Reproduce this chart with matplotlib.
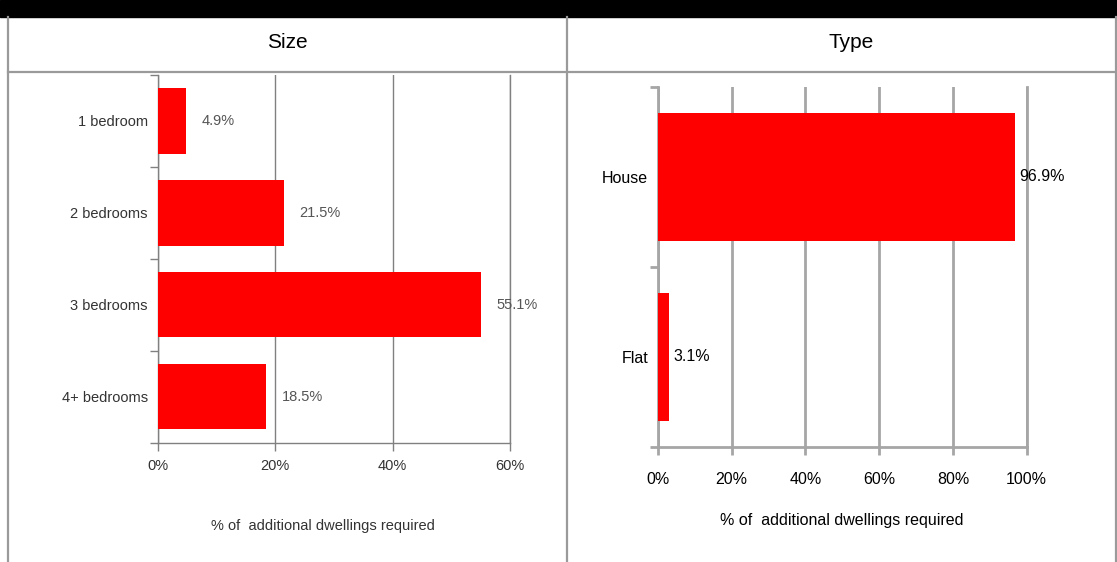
import matplotlib.pyplot as plt
from matplotlib.lines import Line2D
from matplotlib.patches import Rectangle
from matplotlib.ticker import PercentFormatter

size_cats = ["1 bedroom", "2 bedrooms", "3 bedrooms", "4+ bedrooms"]
size_vals = [4.9, 21.5, 55.1, 18.5]
size_ticks = [0, 20, 40, 60]

type_cats = ["House", "Flat"]
type_vals = [96.9, 3.1]
type_ticks = [0, 20, 40, 60, 80, 100]

XLABEL = "% of  additional dwellings required"
RED = "#ff0000"

plt.rcParams["font.family"] = ["Liberation Sans", "DejaVu Sans"]

W, H = 1117, 562
fig = plt.figure(figsize=(W / 100, H / 100), dpi=100)
fig.patch.set_facecolor("white")


def fx(px):
    return px / W


def fy(py):
    return 1 - py / H


# ── table frame ──────────────────────────────────────────────────────
fig.add_artist(Rectangle((0, fy(17)), 1, 17 / H, transform=fig.transFigure,
                         color="black", zorder=0))
tc = "#9a9a9a"
for x in [8, 567, 1115.5]:
    fig.add_artist(Line2D([fx(x), fx(x)], [fy(17), 0], color=tc, lw=1.6,
                          transform=fig.transFigure))
fig.add_artist(Line2D([fx(8), 1], [fy(72.5), fy(72.5)], color=tc, lw=1.6,
                      transform=fig.transFigure))
fig.text(fx(287), fy(43), "Size", ha="center", va="center", fontsize=15)
fig.text(fx(851), fy(43), "Type", ha="center", va="center", fontsize=15)


def setup(ax, cats, vals, ticks, gcol, glw, tcol, lcol, fs, pad, xpad):
    n = len(cats)
    y = list(range(n))
    bars = ax.barh(y, vals, height=0.71, color=RED, zorder=3)
    ax.set_ylim(n - 0.5, -0.5)
    ax.set_xlim(ticks[0], ticks[-1])
    ax.set_yticks(y)
    ax.set_yticklabels(cats, fontsize=fs, color=tcol)
    ax.set_yticks([i - 0.5 for i in range(n + 1)], minor=True)
    ax.tick_params(axis="y", which="major", length=0, pad=7)
    ax.tick_params(axis="y", which="minor", length=6, width=glw, color=gcol)
    ax.set_xticks(ticks)
    ax.xaxis.set_major_formatter(PercentFormatter(decimals=0))
    ax.tick_params(axis="x", length=6, width=glw, color=gcol, labelsize=fs,
                   labelcolor=tcol, pad=xpad)
    ax.grid(axis="x", color=gcol, lw=glw, zorder=1)
    for s in ["left", "bottom", "right"]:
        ax.spines[s].set_color(gcol)
        ax.spines[s].set_linewidth(glw)
    ax.spines["top"].set_visible(False)
    ax.bar_label(bars, labels=[f"{v:.1f}%" for v in vals], padding=pad,
                 fontsize=fs, color=lcol, zorder=4)
    ax.set_facecolor("white")


ax1 = fig.add_axes([fx(157.5), fy(442.7), fx(352.5), (442.7 - 75) / H])
setup(ax1, size_cats, size_vals, size_ticks, "#808080", 1.0, "#333333",
      "#555555", 10.5, 11, 6)
fig.text(fx(323), fy(526), XLABEL, ha="center", va="center", fontsize=10.5,
         color="#333333")

ax2 = fig.add_axes([fx(658), fy(446.7), fx(368.7), (446.7 - 86.7) / H])
setup(ax2, type_cats, type_vals, type_ticks, "#a6a6a6", 2.0, "black",
      "black", 11.5, 3, 12)
fig.text(fx(842), fy(520), XLABEL, ha="center", va="center", fontsize=11.5)

fig.savefig("out.png", dpi=100, facecolor="white")
